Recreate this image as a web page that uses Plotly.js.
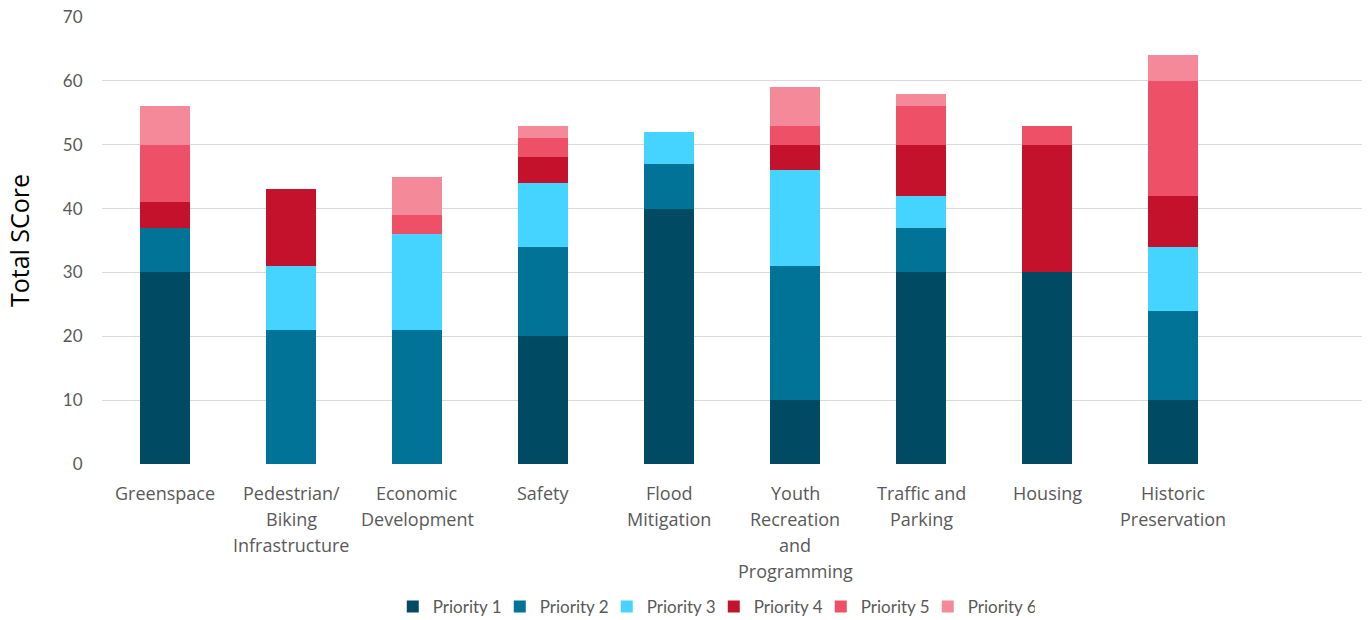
<!DOCTYPE html>
<html>
<head>
<meta charset="utf-8">
<script src="https://cdn.plot.ly/plotly-3.0.1.min.js"></script>
<style>html,body{margin:0;padding:0;background:#fff;}#chart{width:1370px;height:620px;}</style>
</head>
<body>
<div id="chart"></div>
<script>
const categories = ["Greenspace", "Pedestrian/ Biking Infrastructure", "Economic Development", "Safety", "Flood Mitigation", "Youth Recreation and Programming", "Traffic and Parking", "Housing", "Historic Preservation"];
const categoryLines = [["Greenspace"], ["Pedestrian/", "Biking", "Infrastructure"], ["Economic", "Development"], ["Safety"], ["Flood", "Mitigation"], ["Youth", "Recreation", "and", "Programming"], ["Traffic and", "Parking"], ["Housing"], ["Historic", "Preservation"]];
const seriesNames = ["Priority 1", "Priority 2", "Priority 3", "Priority 4", "Priority 5", "Priority 6"];
const priority1 = [30, 0, 0, 20, 40, 10, 30, 30, 10];
const priority2 = [7, 21, 21, 14, 7, 21, 7, 0, 14];
const priority3 = [0, 10, 15, 10, 5, 15, 5, 0, 10];
const priority4 = [4, 12, 0, 4, 0, 4, 8, 20, 8];
const priority5 = [9, 0, 3, 3, 0, 3, 6, 3, 18];
const priority6 = [6, 0, 6, 2, 0, 6, 2, 0, 4];
const colors = ["#004b63", "#007396", "#45d4ff", "#c4122d", "#ee5067", "#f48a99"];
const yTicks = [0, 10, 20, 30, 40, 50, 60, 70];

const allSeries = [priority1, priority2, priority3, priority4, priority5, priority6];
const traces = allSeries.map((vals, i) => ({
  type: "bar",
  name: seriesNames[i],
  x: categories,
  y: vals,
  width: 0.4,
  marker: {color: colors[i], line: {width: 0}},
  hoverinfo: "x+y+name"
}));

const annotations = [];
categoryLines.forEach((lines, ci) => {
  lines.forEach((ln, li) => {
    annotations.push({
      text: ln, x: categories[ci], xref: "x", y: 0, yref: "paper",
      yanchor: "middle", xanchor: "center", showarrow: false,
      yshift: -(29 + 26 * li),
      font: {family: "'Open Sans', sans-serif", size: 18, color: "#595959"}
    });
  });
});

const layout = {
  width: 1370, height: 620,
  barmode: "stack",
  paper_bgcolor: "#fff", plot_bgcolor: "#fff",
  margin: {l: 102, r: 8, t: 17, b: 156},
  font: {family: "Lato, 'Open Sans', sans-serif", color: "#595959", size: 16},
  xaxis: {
    type: "category",
    range: [-0.5, 9.5],
    showticklabels: false,
    showgrid: false, zeroline: false, showline: false
  },
  yaxis: {
    range: [0, 70],
    tickvals: yTicks,
    ticktext: yTicks.map(String),
    gridcolor: "#d9d9d9", gridwidth: 1,
    zeroline: false, showline: false,
    ticks: "outside", ticklen: 15, tickcolor: "rgba(0,0,0,0)",
    tickfont: {family: "Lato, sans-serif", size: 17, color: "#595959"},
    title: {text: "Total SCore", font: {family: "'Open Sans', sans-serif", size: 25, color: "#000"}, standoff: 26}
  },
  legend: {
    orientation: "h",
    x: 0.521, xanchor: "center", xref: "container",
    y: 0.021, yanchor: "middle", yref: "container",
    font: {family: "Lato, sans-serif", size: 17, color: "#595959"},
    traceorder: "normal",
    itemwidth: 30,
    entrywidth: 62, entrywidthmode: "pixels"
  },
  annotations: annotations
};

Plotly.newPlot("chart", traces, layout, {displayModeBar: false, staticPlot: true});
</script>
</body>
</html>
